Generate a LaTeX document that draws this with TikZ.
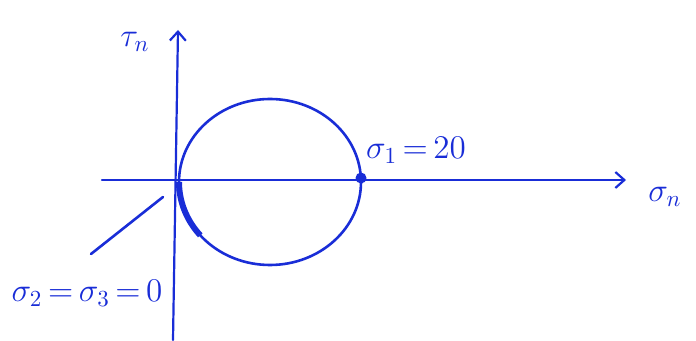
\documentclass[tikz,border=0pt]{standalone}
\usetikzlibrary{arrows.meta}
\definecolor{ink}{RGB}{25,45,215}
\begin{document}
\begin{tikzpicture}[x=1pt,y=1pt,
  ax/.style={ink,line width=2.2pt,line cap=round,-{Straight Barb[length=9pt,width=16pt,line width=2.2pt]}},
  lbl/.style={ink,font=\Large,scale=2.3,transform shape,inner sep=0pt}]
\useasboundingbox (0,0) rectangle (696,340);
\coordinate (vb) at (173,0);
\coordinate (vt) at (178,310);
\coordinate (hl) at (102,160);
\coordinate (hr) at (626,160);
\draw[ax] (vb) -- (vt);
\draw[ax] (hl) -- (hr);
\coordinate (c) at (270,158);
\draw[ink,line width=2.6pt] (c) ellipse [x radius=91, y radius=83];
\draw[ink,line width=6pt] (c) ++(180:91 and 83) arc[start angle=180,end angle=220,x radius=91,y radius=83];
\node[circle,fill=ink,inner sep=0pt,minimum size=11pt] (s1) at (361,162) {};
\coordinate (la) at (91,86);
\coordinate (lb) at (163,143);
\draw[ink,line width=2.6pt,line cap=round] (la) -- (lb);
\node[lbl] (tau) at (135,298) {$\tau_n$};
\node[lbl] (s1l) at (416,190) {$\sigma_1{\,=\,}20$};
\node[lbl] (snl) at (665,143) {$\sigma_n$};
\node[lbl] (s23) at (87,47) {$\sigma_2{\,=\,}\sigma_3{\,=\,}0$};
\end{tikzpicture}
\end{document}
